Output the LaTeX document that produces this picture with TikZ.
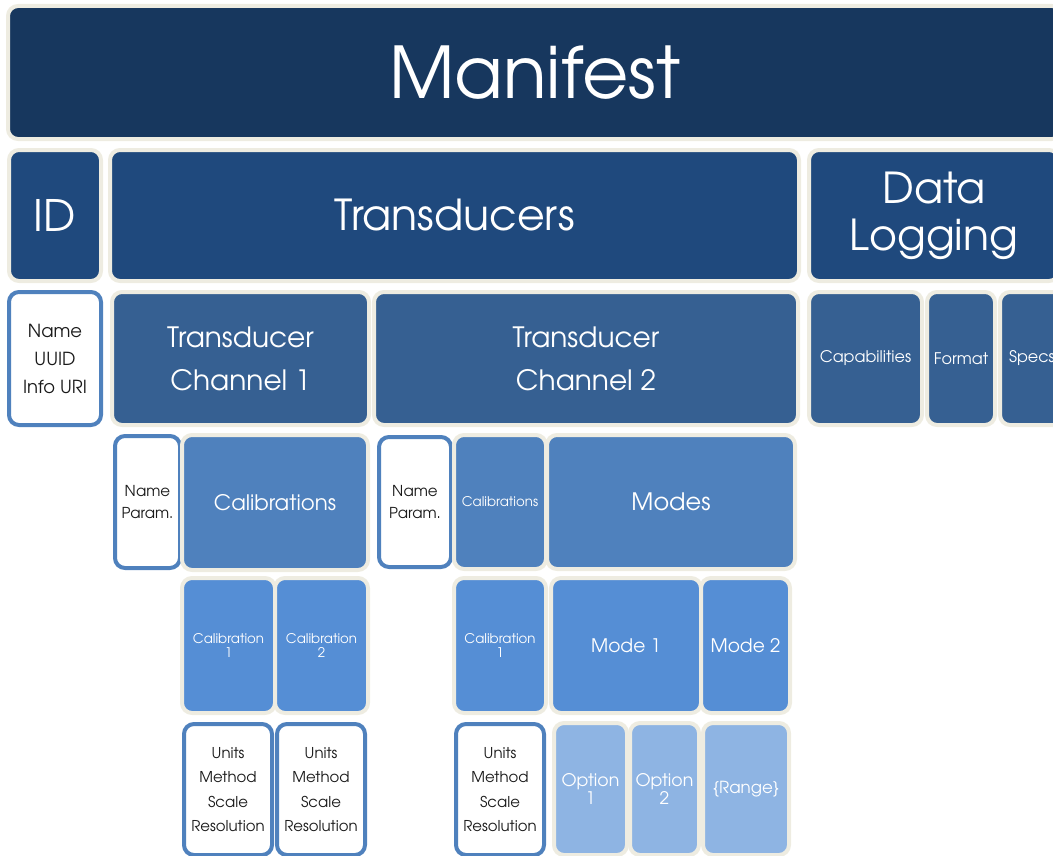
\documentclass[tikz,border=0pt]{standalone}
\usepackage{fontspec}
\setmainfont{TeX Gyre Adventor}
\definecolor{navy}{HTML}{17375E}
\definecolor{lvA}{HTML}{1F497D}
\definecolor{lvB}{HTML}{366092}
\definecolor{lvC}{HTML}{4F81BD}
\definecolor{lvD}{HTML}{558ED5}
\definecolor{lvE}{HTML}{8EB4E3}
\definecolor{creamc}{HTML}{EEECE1}
\definecolor{edgeblue}{HTML}{4F81BD}
\definecolor{inkc}{HTML}{1A1A1A}
\tikzset{
  tilebase/.style={rounded corners=7.5pt, inner sep=0pt, align=center},
  solid tile/.style={tilebase, draw=creamc, line width=3pt, text=white},
  open tile/.style={tilebase, draw=edgeblue, line width=3pt, fill=white, text=inkc},
  fs/.style 2 args={font=\fontsize{#1}{#2}\selectfont},
}
% #1 style, #2 name, #3..#6 corner coordinates (px), #7 text
\newcommand{\tile}[7]{%
  \pgfmathsetmacro{\tileW}{(#5-#3)*0.75}%
  \pgfmathsetmacro{\tileH}{(#6-#4)*0.75}%
  \node[#1, minimum width=\tileW pt, minimum height=\tileH pt] (#2)
    at ({(#3+#5)/2},{(#4+#6)/2}) {#7};}
\begin{document}
\begin{tikzpicture}[x=0.75pt, y=-0.75pt]
\useasboundingbox (0,0) rectangle (1053,856);
\clip (0,0) rectangle (1053,856);
% top level
\tile{solid tile, fill=navy, fs={53.5}{60}}{manifest}{8}{6}{1062}{139}{Manifest}
% second level
\tile{solid tile, fill=lvA, fs={32.5}{36}}{id}{9}{150}{101}{281}{ID}
\tile{solid tile, fill=lvA, fs={32}{36}}{transducers}{110}{150}{799}{281}{Transducers}
\tile{solid tile, fill=lvA, fs={32}{35}}{logging}{809}{150}{1059}{281}{Data\\Logging}
% third level
\tile{open tile, fs={13.5}{21}}{idinfo}{9}{292}{101}{425}{Name\\UUID\\Info URI}
\tile{solid tile, fill=lvB, fs={21}{32}}{chan1}{112}{292}{369}{425}{Transducer\\Channel 1}
\tile{solid tile, fill=lvB, fs={21}{32}}{chan2}{374}{292}{798}{425}{Transducer\\Channel 2}
\tile{solid tile, fill=lvB, fs={12}{15}}{capab}{809}{292}{922}{425}{Capabilities}
\tile{solid tile, fill=lvB, fs={12}{15}}{format}{927}{292}{995}{425}{Format}
\tile{solid tile, fill=lvB, fs={12}{15}}{specs}{1000}{292}{1064}{425}{Specs}
% fourth level
\tile{open tile, fs={11.3}{17}}{param1}{115}{436}{180}{568}{Name\\Param.}
\tile{solid tile, fill=lvC, fs={16}{20}}{cals1}{182}{435}{368}{570}{Calibrations}
\tile{open tile, fs={11.3}{17}}{param2}{379}{437}{451}{567}{Name\\Param.}
\tile{solid tile, fill=lvC, fs={10}{12}}{cals2}{454}{435}{546}{569}{Calibrations}
\tile{solid tile, fill=lvC, fs={18}{20}}{modes}{547}{435}{795}{569}{Modes}
% fifth level
\tile{solid tile, fill=lvD, fs={10}{10.5}}{cal11}{182}{578}{275}{713}{Calibration\\1}
\tile{solid tile, fill=lvD, fs={10}{10.5}}{cal12}{275}{578}{368}{713}{Calibration\\2}
\tile{solid tile, fill=lvD, fs={10}{10.5}}{cal21}{454}{578}{546}{713}{Calibration\\1}
\tile{solid tile, fill=lvD, fs={14}{16}}{mode1}{551}{578}{701}{713}{Mode 1}
\tile{solid tile, fill=lvD, fs={14}{16}}{mode2}{701}{578}{790}{713}{Mode 2}
% sixth level
\tile{open tile, fs={11.2}{18.4}}{units1}{184}{724}{272}{855}{Units\\Method\\Scale\\Resolution}
\tile{open tile, fs={11.2}{18.4}}{units2}{277}{724}{365}{855}{Units\\Method\\Scale\\Resolution}
\tile{open tile, fs={11.2}{18.4}}{units3}{456}{724}{544}{855}{Units\\Method\\Scale\\Resolution}
\tile{solid tile, fill=lvE, fs={13}{12.8}}{opt1}{554}{723}{627}{855}{Option\\1}
\tile{solid tile, fill=lvE, fs={13}{12.8}}{opt2}{630}{723}{699}{855}{Option\\2}
\tile{solid tile, fill=lvE, fs={12.5}{16}}{range}{703}{723}{789}{855}{\{Range\}}
\end{tikzpicture}
\end{document}
